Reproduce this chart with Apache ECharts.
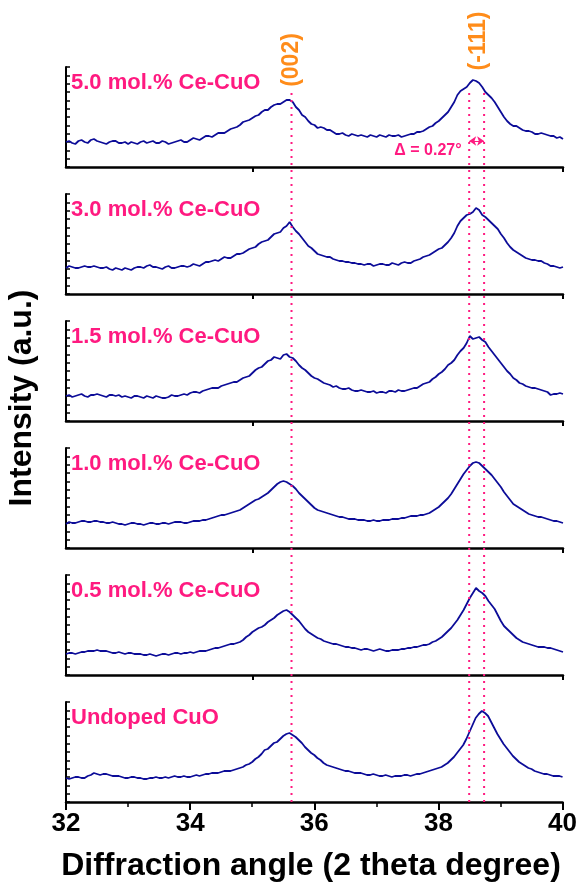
<!DOCTYPE html>
<html>
<head>
<meta charset="utf-8">
<script src="https://cdn.jsdelivr.net/npm/echarts@6/dist/echarts.min.js"></script>
<style>
  html, body { margin: 0; padding: 0; background: #fff; }
  #chart { width: 580px; height: 889px; }
</style>
</head>
<body>
<div id="chart"></div>
<script>
// 2 theta values (deg)
const angles = [
  32.00, 32.05, 32.10, 32.15, 32.20, 32.25, 32.30, 32.35, 32.40, 32.45, 32.50, 32.55, 32.60, 32.65, 32.70, 32.75, 32.80, 32.85, 32.90, 32.95,
  33.00, 33.05, 33.10, 33.15, 33.20, 33.25, 33.30, 33.35, 33.40, 33.45, 33.50, 33.55, 33.60, 33.65, 33.70, 33.75, 33.80, 33.85, 33.90, 33.95,
  34.00, 34.05, 34.10, 34.15, 34.20, 34.25, 34.30, 34.35, 34.40, 34.45, 34.50, 34.55, 34.60, 34.65, 34.70, 34.75, 34.80, 34.85, 34.90, 34.95,
  35.00, 35.05, 35.10, 35.15, 35.20, 35.25, 35.30, 35.35, 35.40, 35.45, 35.50, 35.55, 35.60, 35.65, 35.70, 35.75, 35.80, 35.85, 35.90, 35.95,
  36.00, 36.05, 36.10, 36.15, 36.20, 36.25, 36.30, 36.35, 36.40, 36.45, 36.50, 36.55, 36.60, 36.65, 36.70, 36.75, 36.80, 36.85, 36.90, 36.95,
  37.00, 37.05, 37.10, 37.15, 37.20, 37.25, 37.30, 37.35, 37.40, 37.45, 37.50, 37.55, 37.60, 37.65, 37.70, 37.75, 37.80, 37.85, 37.90, 37.95,
  38.00, 38.05, 38.10, 38.15, 38.20, 38.25, 38.30, 38.35, 38.40, 38.45, 38.50, 38.55, 38.60, 38.65, 38.70, 38.75, 38.80, 38.85, 38.90, 38.95,
  39.00, 39.05, 39.10, 39.15, 39.20, 39.25, 39.30, 39.35, 39.40, 39.45, 39.50, 39.55, 39.60, 39.65, 39.70, 39.75, 39.80, 39.85, 39.90, 39.95,
  40.00
]

// intensities, a.u. (one panel each, top to bottom)
const ce50 = [
  25, 26, 24, 23, 26, 27, 25, 24, 27, 28, 26, 25, 24, 23, 25, 26, 26, 24, 24, 25,
  23, 25, 24, 23, 25, 26, 24, 25, 26, 24, 24, 26, 25, 23, 24, 25, 26, 27, 25, 25,
  27, 29, 28, 27, 29, 31, 31, 30, 32, 34, 34, 34, 36, 38, 39, 40, 42, 45, 46, 47,
  49, 51, 52, 55, 57, 57, 60, 62, 63, 63, 65, 67, 67, 65, 60, 57, 52, 50, 46, 43,
  42, 39, 40, 39, 37, 37, 35, 33, 33, 34, 32, 31, 33, 32, 31, 32, 31, 30, 32, 31,
  30, 32, 31, 30, 32, 31, 31, 32, 30, 31, 32, 33, 33, 35, 35, 36, 38, 40, 41, 44,
  46, 49, 52, 55, 60, 65, 72, 76, 78, 80, 84, 87, 86, 84, 80, 75, 72, 69, 65, 60,
  55, 50, 46, 43, 41, 41, 39, 37, 36, 36, 35, 33, 33, 34, 33, 32, 31, 31, 29, 30,
  28
]
const ce30 = [
  26, 28, 27, 26, 26, 27, 28, 27, 27, 28, 27, 26, 26, 27, 25, 24, 26, 25, 24, 26,
  25, 24, 26, 27, 27, 26, 28, 29, 27, 27, 26, 25, 27, 28, 26, 26, 27, 28, 28, 27,
  28, 30, 29, 28, 30, 32, 32, 33, 34, 33, 35, 37, 36, 36, 38, 40, 40, 41, 43, 45,
  46, 47, 50, 52, 53, 54, 57, 60, 61, 62, 66, 68, 72, 67, 63, 60, 56, 52, 48, 46,
  43, 40, 39, 38, 37, 37, 35, 34, 33, 33, 32, 32, 31, 31, 30, 30, 29, 30, 30, 28,
  29, 30, 30, 29, 29, 31, 30, 29, 31, 32, 31, 31, 33, 34, 35, 37, 38, 39, 41, 43,
  45, 46, 49, 52, 56, 61, 68, 73, 76, 79, 80, 82, 86, 84, 79, 77, 74, 71, 68, 65,
  60, 56, 51, 47, 44, 42, 40, 38, 36, 35, 34, 34, 33, 33, 31, 30, 28, 28, 27, 26,
  27
]
const ce15 = [
  25, 26, 24, 25, 26, 27, 25, 24, 26, 26, 27, 26, 25, 24, 26, 26, 25, 26, 24, 25,
  24, 23, 25, 25, 24, 23, 25, 24, 23, 25, 24, 23, 23, 24, 26, 25, 25, 26, 27, 26,
  28, 29, 29, 28, 30, 31, 32, 33, 33, 33, 35, 36, 37, 38, 39, 39, 41, 43, 44, 45,
  48, 51, 53, 54, 57, 60, 61, 64, 63, 62, 66, 67, 64, 63, 60, 56, 53, 51, 48, 45,
  43, 42, 40, 38, 37, 36, 34, 35, 33, 32, 32, 33, 31, 30, 30, 31, 30, 29, 29, 30,
  28, 29, 29, 28, 30, 30, 29, 31, 30, 30, 31, 32, 33, 33, 35, 37, 38, 39, 42, 44,
  47, 49, 52, 56, 58, 61, 66, 70, 73, 78, 85, 82, 83, 84, 81, 79, 74, 70, 66, 62,
  58, 54, 50, 47, 43, 41, 38, 37, 35, 34, 33, 33, 32, 31, 30, 29, 26, 27, 27, 28,
  27
]
const ce10 = [
  24, 26, 25, 25, 26, 27, 27, 26, 26, 27, 27, 26, 26, 25, 25, 26, 25, 24, 24, 23,
  24, 25, 25, 24, 24, 23, 24, 25, 25, 24, 24, 25, 25, 24, 25, 26, 26, 26, 25, 25,
  26, 27, 27, 27, 28, 28, 29, 30, 31, 32, 33, 33, 34, 35, 36, 37, 38, 40, 42, 44,
  46, 48, 49, 51, 53, 55, 58, 61, 64, 66, 67, 66, 64, 62, 59, 55, 52, 49, 46, 43,
  40, 38, 37, 36, 35, 34, 33, 32, 31, 31, 30, 29, 29, 29, 28, 28, 28, 27, 27, 28,
  27, 27, 28, 28, 28, 29, 29, 29, 30, 30, 31, 32, 32, 32, 33, 33, 34, 35, 37, 39,
  41, 44, 47, 50, 54, 59, 64, 69, 74, 78, 82, 85, 86, 85, 82, 79, 76, 73, 69, 65,
  61, 56, 52, 48, 44, 42, 40, 38, 36, 34, 33, 32, 31, 31, 30, 29, 28, 27, 27, 26,
  25
]
const ce05 = [
  21, 22, 22, 21, 22, 23, 23, 24, 24, 24, 25, 24, 24, 24, 23, 22, 22, 23, 22, 21,
  22, 22, 21, 21, 21, 20, 20, 21, 20, 19, 20, 21, 21, 20, 21, 22, 22, 21, 22, 22,
  23, 22, 23, 24, 24, 24, 25, 26, 27, 27, 28, 29, 30, 31, 31, 32, 33, 35, 38, 40,
  43, 45, 47, 48, 50, 53, 55, 57, 60, 62, 64, 65, 63, 60, 57, 54, 50, 46, 43, 41,
  39, 37, 36, 34, 33, 32, 31, 31, 30, 29, 28, 28, 27, 27, 26, 25, 26, 26, 25, 24,
  25, 26, 25, 24, 24, 25, 25, 25, 26, 26, 27, 27, 28, 28, 29, 30, 30, 31, 33, 34,
  36, 38, 41, 44, 47, 51, 55, 60, 65, 71, 77, 82, 87, 84, 82, 79, 74, 70, 66, 60,
  54, 49, 46, 43, 40, 37, 35, 33, 32, 31, 30, 29, 28, 28, 28, 27, 27, 26, 25, 24,
  23
]
const undoped = [
  24, 23, 24, 25, 25, 24, 24, 26, 27, 29, 28, 27, 28, 28, 27, 26, 26, 26, 25, 24,
  24, 25, 25, 24, 24, 23, 23, 24, 24, 25, 24, 24, 25, 24, 25, 26, 25, 25, 26, 25,
  25, 26, 27, 26, 27, 28, 28, 29, 29, 29, 30, 31, 31, 31, 32, 33, 34, 35, 37, 38,
  40, 43, 45, 48, 52, 53, 56, 59, 60, 63, 66, 68, 69, 67, 65, 62, 59, 55, 52, 49,
  47, 44, 42, 39, 37, 36, 35, 34, 33, 32, 31, 31, 30, 29, 29, 29, 28, 27, 27, 28,
  27, 26, 26, 27, 26, 25, 26, 26, 26, 27, 27, 26, 27, 28, 28, 29, 30, 31, 32, 33,
  34, 35, 37, 39, 42, 45, 49, 53, 57, 63, 70, 77, 84, 88, 91, 89, 86, 80, 74, 68,
  63, 58, 54, 50, 46, 43, 40, 38, 36, 34, 33, 31, 30, 29, 28, 28, 27, 26, 26, 26,
  25
]

const sampleNames = ['5.0 mol.% Ce-CuO', '3.0 mol.% Ce-CuO', '1.5 mol.% Ce-CuO', '1.0 mol.% Ce-CuO', '0.5 mol.% Ce-CuO', 'Undoped CuO']
const panels = [ce50, ce30, ce15, ce10, ce05, undoped]

// reference peak positions
const peak002 = 35.63
const peak111 = [38.49, 38.73]

const FONT = 'Arial, "Liberation Sans", sans-serif'
const PINK = '#ff1a80'
const ORANGE = '#ff8c1a'
const NAVY = '#0c0c98'

const chart = echarts.init(document.getElementById('chart'))

const PANEL_TOP = 67
const PANEL_STEP = 127
const PANEL_H = 100

const grids = []
const xAxes = []
const yAxes = []
const series = []
const graphics = []

panels.forEach((vals, i) => {
  const last = i === panels.length - 1
  grids.push({ left: 66, right: 17, top: PANEL_TOP + PANEL_STEP * i, height: PANEL_H })
  xAxes.push({
    gridIndex: i,
    type: 'value',
    min: 32,
    max: 40,
    interval: 2,
    axisLine: { lineStyle: { color: '#000', width: 2.5 } },
    axisTick: last
      ? { show: true, length: 8, lineStyle: { color: '#000', width: 2 } }
      : { show: true, length: 5, customValues: [35, 40], lineStyle: { color: '#000', width: 2 } },
    minorTick: last
      ? { show: true, splitNumber: 2, length: 5, lineStyle: { color: '#000', width: 1.5 } }
      : { show: false },
    axisLabel: last
      ? { show: true, color: '#000', fontSize: 26, fontWeight: 'bold', fontFamily: FONT, margin: 9 }
      : { show: false },
    splitLine: { show: false }
  })
  yAxes.push({
    gridIndex: i,
    type: 'value',
    min: 0,
    max: 100,
    interval: 100 / 12,
    axisLine: { show: true, lineStyle: { color: '#000', width: 2 } },
    axisTick: { show: true, inside: true, length: 4, lineStyle: { color: '#000', width: 1.5 } },
    axisLabel: { show: false },
    splitLine: { show: false }
  })
  const s = {
    type: 'line',
    xAxisIndex: i,
    yAxisIndex: i,
    data: angles.map((a, k) => [a, vals[k]]),
    showSymbol: false,
    lineStyle: { color: NAVY, width: 1.8 },
    z: 2,
    animation: false
  }
  if (i === 0) {
    // the 0.27 deg shift arrow between the two (-111) lines
    s.markLine = {
      silent: true,
      symbol: ['arrow', 'arrow'],
      symbolSize: [7, 7],
      label: { show: false },
      lineStyle: { color: PINK, width: 1, type: 'solid' },
      data: [[{ coord: [peak111[0], 26] }, { coord: [peak111[1], 26] }]]
    }
  }
  series.push(s)
  graphics.push({
    type: 'text',
    left: 71,
    top: PANEL_TOP + PANEL_STEP * i + 5,
    style: { text: sampleNames[i], fill: PINK, font: 'bold 22px ' + FONT }
  })
})

// overlay grid for the dotted reference lines through all panels
const ov = panels.length
grids.push({ left: 66, right: 17, top: 92, bottom: 889 - 802 })
xAxes.push({ gridIndex: ov, type: 'value', min: 32, max: 40, show: false })
yAxes.push({ gridIndex: ov, type: 'value', min: 0, max: 1, show: false })
;[peak002, peak111[0], peak111[1]].forEach(p => {
  series.push({
    type: 'line',
    xAxisIndex: ov,
    yAxisIndex: ov,
    data: [[p, 0], [p, 1]],
    showSymbol: false,
    lineStyle: { color: PINK, width: 2, type: [2, 5] },
    z: 5,
    animation: false
  })
})

graphics.push(
  {
    type: 'text',
    x: 292, y: 60, rotation: Math.PI / 2,
    style: { text: '(002)', fill: ORANGE, font: 'bold 23px ' + FONT, align: 'center', verticalAlign: 'middle' }
  },
  {
    type: 'text',
    x: 479, y: 41, rotation: Math.PI / 2,
    style: { text: '(-111)', fill: ORANGE, font: 'bold 23px ' + FONT, align: 'center', verticalAlign: 'middle' }
  },
  {
    type: 'text',
    x: 428, y: 151,
    style: { text: 'Δ = 0.27°', fill: PINK, font: 'bold 16px ' + FONT, align: 'center', verticalAlign: 'middle' }
  },
  {
    type: 'text',
    x: 22, y: 398, rotation: Math.PI / 2,
    style: { text: 'Intensity (a.u.)', fill: '#000', font: 'bold 32px ' + FONT, align: 'center', verticalAlign: 'middle' }
  },
  {
    type: 'text',
    x: 311, y: 866,
    style: { text: 'Diffraction angle (2 theta degree)', fill: '#000', font: 'bold 32px ' + FONT, align: 'center', verticalAlign: 'middle' }
  }
)

chart.setOption({
  animation: false,
  grid: grids,
  xAxis: xAxes,
  yAxis: yAxes,
  series: series,
  graphic: graphics
})
window.addEventListener('resize', () => chart.resize())
</script>
</body>
</html>
